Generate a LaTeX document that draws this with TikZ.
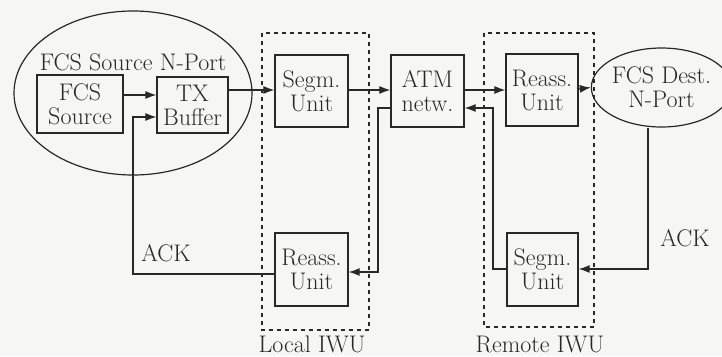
\documentclass[tikz,border=0pt]{standalone}
\usetikzlibrary{arrows.meta,shapes.geometric}
\definecolor{bgc}{RGB}{246,246,245}
\definecolor{ink}{RGB}{40,40,40}
\begin{document}
\begin{tikzpicture}[x=1pt,y=-1pt,
  every node/.style={font=\fontsize{24}{24}\selectfont, text=ink},
  unitbox/.style={draw=ink, line width=1.3pt, minimum width=#1, inner sep=0pt, align=center},
  port/.style={draw=ink, line width=1.2pt, ellipse, inner sep=0pt},
  iwu/.style={draw=ink, line width=1.2pt, dash pattern=on 4pt off 4pt},
  wire/.style={draw=ink, line width=1.2pt},
  arr/.style={wire, -{Latex[length=11pt,width=8pt]}}]
\useasboundingbox[fill=bgc] (0,0) rectangle (722,356);

% IWU dashed frames
\draw[iwu] (262,33) rectangle (369,330);
\draw[iwu] (484,33) rectangle (594,327);
\node[anchor=base, inner sep=0pt] (lociwu) at (312,352) {Local IWU};
\node[anchor=base, inner sep=0pt] (remiwu) at (540,352) {Remote IWU};

% source N-port
\node[port, minimum width=238pt, minimum height=164pt] (src) at (133,93) {};
\node (srclabel) at (133,62) {FCS Source N-Port};
\node[unitbox=86pt, minimum height=58pt] (fcs) at (80,104) {FCS\\Source};
\node[unitbox=71pt, minimum height=56pt] (tx) at (192.5,105) {TX\\Buffer};

% units
\node[unitbox=73pt, minimum height=72pt] (segA) at (311.5,91) {Segm.\\Unit};
\node[unitbox=73pt, minimum height=72pt] (atm) at (427.5,91) {ATM\\netw.};
\node[unitbox=72pt, minimum height=72pt] (reassA) at (542,90) {Reass.\\Unit};
\node[unitbox=73pt, minimum height=73pt] (reassB) at (311.5,269.5) {Reass.\\Unit};
\node[unitbox=71pt, minimum height=73pt] (segB) at (542.5,269.5) {Segm.\\Unit};

% destination N-port
\node[port, minimum width=116pt, minimum height=79pt, align=center] (dest) at (661.5,87.5) {FCS Dest.\\N-Port};

% ACK labels
\node (ackL) at (166,253) {ACK};
\node (ackR) at (685,238) {ACK};

% forward path
\draw[arr] (fcs.east |- 0,95) -- (tx.west |- 0,95);
\draw[arr] (tx.east |- 0,90) -- (segA.west |- 0,90);
\draw[arr] (segA.east |- 0,90) -- (atm.west |- 0,90);
\draw[arr] (atm.east |- 0,90) -- (reassA.west |- 0,90);
\draw[arr] (reassA.east |- 0,89) -- (dest.west);

% return path
\coordinate (dd) at (648,269);
\draw[arr] (dest.south -| dd) -- (dd) -- (segB.east |- dd);
\coordinate (r1) at (493,269);
\coordinate (r2) at (493,108);
\draw[arr] (segB.west |- r1) -- (r1) -- (r2) -- (atm.east |- r2);
\coordinate (l1) at (378,108);
\coordinate (l2) at (378,272);
\draw[arr] (atm.west |- l1) -- (l1) -- (l2) -- (reassB.east |- l2);
\coordinate (a1) at (133,274);
\coordinate (a2) at (133,117);
\draw[arr] (reassB.west |- a1) -- (a1) -- (a2) -- (tx.west |- a2);
\end{tikzpicture}
\end{document}
